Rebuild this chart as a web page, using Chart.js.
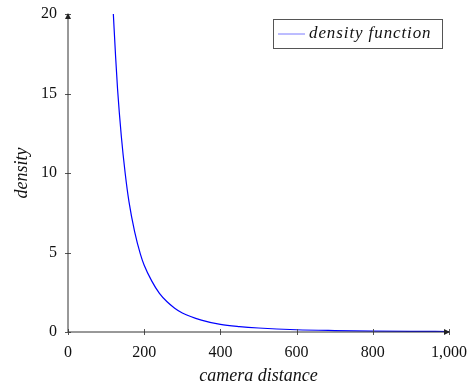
<!DOCTYPE html>
<html>
<head>
<meta charset="utf-8">
<script src="https://cdn.jsdelivr.net/npm/chart.js@4"></script>
<style>
  html, body { margin: 0; padding: 0; background: #fff; }
</style>
</head>
<body>
<canvas id="grafico" width="470" height="391"></canvas>
<script>
// values
const distancia = [119, 125, 130, 140, 150, 160, 175, 190, 200, 220, 240, 260, 280, 300, 350, 400, 450, 500, 600, 700, 800, 900, 1000];
const densidade = [20, 17.3, 15.3, 12.3, 10.0, 8.2, 6.3, 4.9, 4.2, 3.2, 2.43, 1.9, 1.5, 1.2, 0.75, 0.48, 0.34, 0.25, 0.14, 0.09, 0.06, 0.04, 0.03];
const xTicks = [0, 200, 400, 600, 800, 1000];
const yTicks = [0, 5, 10, 15, 20];

const serif = "'Liberation Serif', 'DejaVu Serif', serif";

// eixos com setas, marcas cruzando o eixo e legenda com moldura
const eixos = {
    id: 'eixos',
    afterDraw(chart) {
        const c = chart.ctx;
        const xs = chart.scales.x, ys = chart.scales.y;
        const x0 = xs.getPixelForValue(0), x1 = xs.getPixelForValue(1000);
        const y0 = ys.getPixelForValue(0), y1 = ys.getPixelForValue(20);
        c.save();
        c.strokeStyle = '#555';
        c.lineWidth = 1;
        xTicks.forEach(v => {
            const p = Math.round(xs.getPixelForValue(v)) + 0.5;
            c.beginPath(); c.moveTo(p, y0 - 3); c.lineTo(p, y0 + 3); c.stroke();
        });
        yTicks.forEach(v => {
            const p = Math.round(ys.getPixelForValue(v)) + 0.5;
            c.beginPath(); c.moveTo(x0 - 3, p); c.lineTo(x0 + 3, p); c.stroke();
        });
        c.strokeStyle = '#333';
        c.beginPath();
        c.moveTo(x0, y0); c.lineTo(x1, y0);
        c.moveTo(x0, y0); c.lineTo(x0, y1);
        c.stroke();
        c.fillStyle = '#222';
        c.beginPath();
        c.moveTo(x1 + 1, y0); c.lineTo(x1 - 5, y0 - 3); c.lineTo(x1 - 5, y0 + 3); c.closePath(); c.fill();
        c.beginPath();
        c.moveTo(x0, y1 - 1); c.lineTo(x0 - 3, y1 + 5); c.lineTo(x0 + 3, y1 + 5); c.closePath(); c.fill();

        // legenda
        const ds = chart.data.datasets[0];
        c.fillStyle = '#fff';
        c.fillRect(273, 19, 169, 29);
        c.strokeStyle = '#555';
        c.strokeRect(273.5, 19.5, 169, 29);
        c.strokeStyle = '#7a7aff';
        c.beginPath(); c.moveTo(278, 34); c.lineTo(305, 34); c.stroke();
        c.fillStyle = '#111';
        c.font = 'italic 17px ' + serif;
        c.letterSpacing = '0.9px';
        c.textBaseline = 'middle';
        c.fillText(ds.label, 309, 34);
        c.restore();
    }
};

new Chart(document.getElementById('grafico').getContext('2d'), {
    type: 'line',
    data: {
        datasets: [{
            label: 'density function',
            data: distancia.map((d, i) => ({ x: d, y: densidade[i] })),
            borderColor: '#0000ff',
            borderWidth: 1.2,
            pointRadius: 0,
            fill: false,
            cubicInterpolationMode: 'monotone'
        }]
    },
    options: {
        responsive: false,
        animation: false,
        layout: { padding: { top: 14, right: 21, left: 0, bottom: 0 } },
        plugins: { legend: { display: false }, tooltip: { enabled: false } },
        scales: {
            x: {
                type: 'linear', min: 0, max: 1000,
                grid: { display: false },
                border: { display: false },
                afterBuildTicks: s => { s.ticks = xTicks.map(v => ({ value: v })); },
                afterFit: s => { s.height = 59; },
                ticks: { color: '#111', font: { family: serif, size: 16 }, padding: 3, maxRotation: 0, autoSkip: false },
                title: { display: true, text: 'camera distance', color: '#111', font: { family: serif, size: 18, style: 'italic' }, padding: { top: 2 } }
            },
            y: {
                min: 0, max: 20,
                grid: { display: false },
                border: { display: false },
                afterBuildTicks: s => { s.ticks = yTicks.map(v => ({ value: v })); },
                afterFit: s => { s.width = 68; },
                ticks: { color: '#111', font: { family: serif, size: 16 }, padding: 3, autoSkip: false },
                title: { display: true, text: 'density', color: '#111', font: { family: serif, size: 18, style: 'italic' }, padding: { top: 11, bottom: 0 } }
            }
        }
    },
    plugins: [eixos]
});
</script>
</body>
</html>
